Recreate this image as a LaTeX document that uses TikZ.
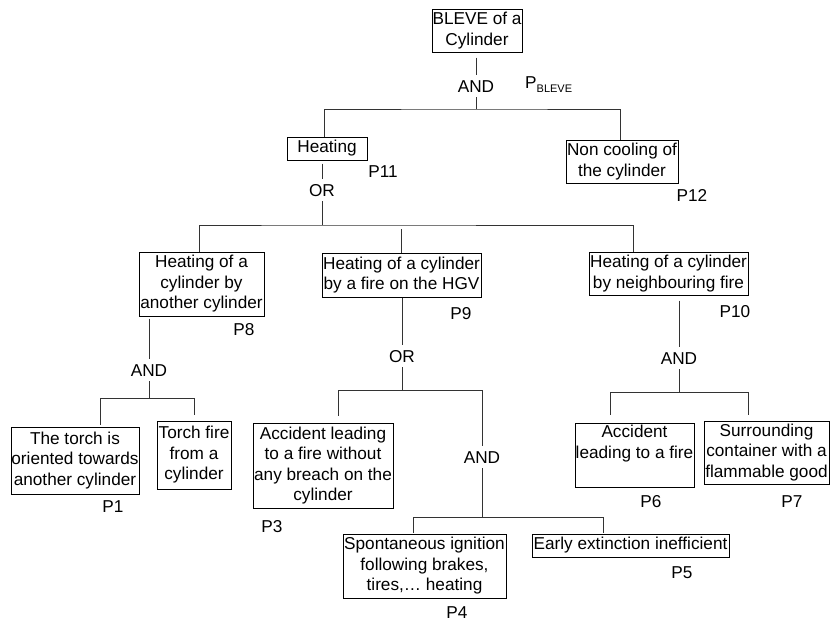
\documentclass[tikz,border=0pt]{standalone}
\usepackage{fontspec}
\setmainfont{Liberation Sans}
\begin{document}
\begin{tikzpicture}[x=1pt,y=-1pt,
  every node/.style={font=\fontsize{17.2}{20.5}\selectfont},
  box/.style={draw, line width=1pt, inner sep=0pt, align=center},
  gate/.style={inner xsep=2pt, inner ysep=5pt, text height=12pt, text depth=0pt},
  lab/.style={inner sep=0pt},
  conn/.style={line width=0.8pt, draw=black!80}]
\useasboundingbox (0,0) rectangle (830,622);

% boxes
\node[box, minimum width=90pt, minimum height=43pt] (top) at (477,30.5) {BLEVE of a\\Cylinder};
\node[box, minimum width=80pt, minimum height=23pt] (heat) at (327,148.5) {Heating};
\node[box, minimum width=112pt, minimum height=43pt] (noncool) at (622,161.5) {Non cooling of\\the cylinder};
\node[box, minimum width=125pt, minimum height=64pt] (p8box) at (201.5,284) {Heating of a\\cylinder by\\another cylinder};
\node[box, minimum width=159pt, minimum height=44pt] (p9box) at (401.5,275) {Heating of a cylinder\\by a fire on the HGV};
\node[box, minimum width=159pt, minimum height=43pt] (p10box) at (668.5,273.5) {Heating of a cylinder\\by neighbouring fire};
\node[box, minimum width=128pt, minimum height=67pt] (p1box) at (75,460.5) {The torch is\\oriented towards\\another cylinder};
\node[box, minimum width=74pt, minimum height=68pt] (p2box) at (194,455) {Torch fire\\from a\\cylinder};
\node[box, minimum width=140pt, minimum height=85pt] (p3box) at (323,465.5) {Accident leading\\to a fire without\\any breach on the\\cylinder};
\node[box, minimum width=119pt, minimum height=64pt] (p6box) at (634.5,455) {Accident\\leading to a fire\\\strut};
\node[box, minimum width=125pt, minimum height=63pt] (p7box) at (766.5,452.5) {Surrounding\\container with a\\flammable good};
\node[box, minimum width=163pt, minimum height=64pt] (p4box) at (424.5,566) {Spontaneous ignition\\following brakes,\\tires,… heating};
\node[box, minimum width=197pt, minimum height=23pt] (p5box) at (630.5,545.5) {Early extinction inefficient};

% gates
\node[gate] (g0) at (476,86) {AND};
\node[gate] (g1) at (322,190) {OR};
\node[gate] (g2) at (149,370) {AND};
\node[gate] (g3) at (402,356) {OR};
\node[gate] (g4) at (482,457) {AND};
\node[gate] (g5) at (679,358) {AND};

% bus junctions
\coordinate (b0) at (476,109);
\coordinate (b1) at (322,225);
\coordinate (b2) at (149,398);
\coordinate (b3) at (402,390);
\coordinate (b4) at (482,517);
\coordinate (b5) at (679,392);

% connectors
\draw[conn, shorten <=5pt] (top.south -| g0) -- (g0.north);
\draw[conn] (g0.south) -- (b0);
\draw[conn] ([xshift=-3pt]heat.north) |- (b0) -| ([xshift=-2pt]noncool.north);

\draw[conn, shorten <=3pt] (heat.south -| g1) -- (g1.north);
\draw[conn] (g1.south) -- (b1);
\draw[conn] ([xshift=-2.5pt]p8box.north) |- (b1) -| ([xshift=-35.5pt]p10box.north);
\draw[conn, shorten <=4pt] (p9box.north |- b1) -- (p9box.north);

\draw[conn, shorten <=2pt] (p8box.south -| g2) -- (g2.north);
\draw[conn] (g2.south) -- (b2);
\draw[conn, shorten >=2pt] (b2) -| ([xshift=25pt]p1box.north);
\draw[conn, shorten >=6pt] (b2) -| (p2box.north);

\draw[conn] (p9box.south -| g3) -- (g3.north);
\draw[conn] (g3.south) -- (b3);
\draw[conn, shorten >=7pt] (b3) -| ([xshift=15pt]p3box.north);
\draw[conn] (b3) -| (g4.north);
\draw[conn] (g4.south) -- (b4);
\draw[conn, shorten >=1pt] (b4) -| ([xshift=-11.5pt]p4box.north);
\draw[conn, shorten >=1pt] (b4) -| ([xshift=-27.5pt]p5box.north);

\draw[conn, shorten <=5pt] (p10box.south -| g5) -- (g5.north);
\draw[conn] (g5.south) -- (b5);
\draw[conn, shorten >=8pt] (b5) -| ([xshift=-24.5pt]p6box.north);
\draw[conn, shorten >=6pt] (b5) -| ([xshift=-18.5pt]p7box.north);

% probability labels
\node[lab, anchor=west] (pbleve) at (525,85) {P\raisebox{-4pt}{\fontsize{11}{11}\selectfont BLEVE}};
\node[lab] (p11) at (383,172) {P11};
\node[lab] (p12) at (692,195) {P12};
\node[lab] (p8) at (244,330) {P8};
\node[lab] (p9) at (461,314) {P9};
\node[lab] (p10) at (735,312) {P10};
\node[lab] (p1) at (113,507) {P1};
\node[lab] (p3) at (272,527) {P3};
\node[lab] (p4) at (457,613) {P4};
\node[lab] (p5) at (682,573) {P5};
\node[lab] (p6) at (651,502) {P6};
\node[lab] (p7) at (792,502) {P7};
\end{tikzpicture}
\end{document}
